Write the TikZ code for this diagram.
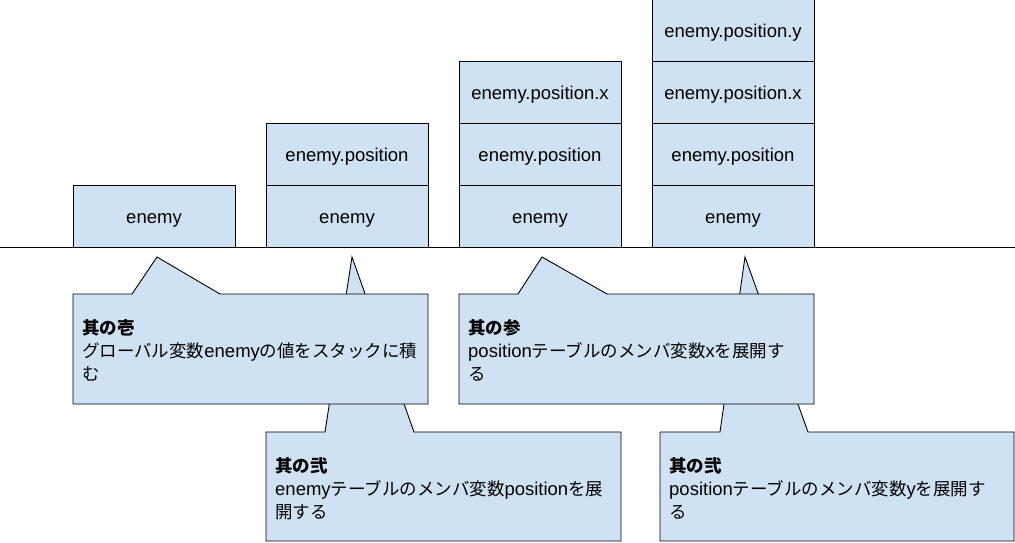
\documentclass[tikz,border=0pt]{standalone}
\usepackage{fontspec}
\setmainfont{Liberation Sans}
\newfontfamily\jp[Scale=0.945]{Noto Sans CJK JP}
\definecolor{boxfill}{HTML}{CFE2F3}
\begin{document}
\begin{tikzpicture}[x=1pt,y=-1pt,
  stackbox/.style={draw=black,fill=boxfill,line width=0.9pt,minimum width=162pt,minimum height=62pt,inner sep=0pt,text height=16pt,text depth=0.6pt,font=\fontsize{18.5}{22}\selectfont},
  callout/.style={draw=black,fill=boxfill,line width=0.9pt,line join=miter},
  callouttext/.style={anchor=base west,align=left,inner sep=0pt,font=\fontsize{18.5}{22.8}\selectfont}]
\useasboundingbox (0,0) rectangle (1015,542);
% stacks
\node[stackbox] (s1a) at (154,216) {enemy};
\node[stackbox] (s2a) at (347,216) {enemy};
\node[stackbox] (s2b) at (347,154) {enemy.position};
\node[stackbox] (s3a) at (540,216) {enemy};
\node[stackbox] (s3b) at (540,154) {enemy.position};
\node[stackbox] (s3c) at (540,92) {enemy.position.x};
\node[stackbox] (s4a) at (733,216) {enemy};
\node[stackbox] (s4b) at (733,154) {enemy.position};
\node[stackbox] (s4c) at (733,92) {enemy.position.x};
\node[stackbox] (s4d) at (733,30) {enemy.position.y};
% baseline
\coordinate (bl) at (0,247);
\coordinate (br) at (1015,247);
\draw[line width=0.9pt] (bl) -- (br);
% callouts (back row first)
\draw[callout] (266,432) -- (325,432) -- (352,257) -- (414,432) -- (621,432) -- (621,541) -- (266,541) -- cycle;
\draw[callout] (660,432) -- (720,432) -- (745,257) -- (808,432) -- (1014,432) -- (1014,541) -- (660,541) -- cycle;
\draw[callout] (73,294) -- (132,294) -- (157,257) -- (220,294) -- (428,294) -- (428,404) -- (73,404) -- cycle;
\draw[callout] (459,294) -- (518,294) -- (542,257) -- (607,294) -- (814,294) -- (814,404) -- (459,404) -- cycle;
% callout texts (anchor = baseline of last line)
\node[callouttext] (t1) at (82,380) {{\jp\bfseries 其の壱}\\{\jp グローバル変数}enemy{\jp の値をスタックに積}\\{\jp む}};
\node[callouttext] (t2) at (275,518) {{\jp\bfseries 其の弐}\\enemy{\jp テーブルのメンバ変数}position{\jp を展}\\{\jp 開する}};
\node[callouttext] (t3) at (468,380) {{\jp\bfseries 其の参}\\position{\jp テーブルのメンバ変数}x{\jp を展開す}\\{\jp る}};
\node[callouttext] (t4) at (669,518) {{\jp\bfseries 其の弐}\\position{\jp テーブルのメンバ変数}y{\jp を展開す}\\{\jp る}};
\end{tikzpicture}
\end{document}
